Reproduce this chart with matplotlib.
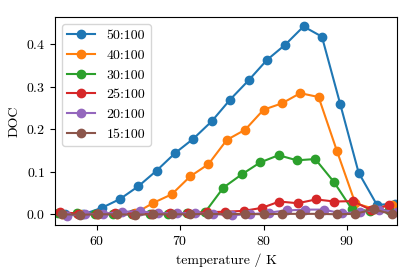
import matplotlib
matplotlib.use('Agg')
import matplotlib.pyplot as plt

plt.rcParams['font.family'] = 'serif'
plt.rcParams['font.serif'] = ['cmr10']
plt.rcParams['mathtext.fontset'] = 'cm'
plt.rcParams['axes.formatter.use_mathtext'] = True
plt.rcParams['font.size'] = 10

labels = ['50:100', '40:100', '30:100', '25:100', '20:100', '15:100']

# temperatures (K) for each series
t_50 = [56.2, 58.4, 60.6, 62.8, 65.0, 67.2, 69.4, 71.6, 73.8, 76.0,
        78.2, 80.4, 82.6, 84.8, 87.0, 89.2, 91.4, 93.6, 95.8]
t_40 = [55.8, 58.0, 60.2, 62.4, 64.6, 66.8, 69.0, 71.2, 73.4, 75.6,
        77.8, 80.0, 82.2, 84.4, 86.6, 88.8, 91.0, 93.2, 95.4]
t_30 = [55.4, 57.6, 59.8, 62.0, 64.2, 66.4, 68.6, 70.8, 73.0, 75.2,
        77.4, 79.6, 81.8, 84.0, 86.2, 88.4, 90.6, 92.8, 95.0]
t_25 = [55.6, 57.8, 60.0, 62.2, 64.4, 66.6, 68.8, 71.0, 73.2, 75.4,
        77.6, 79.8, 81.9, 84.1, 86.3, 88.5, 90.7, 92.9, 95.1]
t_20 = [56.4, 58.6, 60.8, 63.0, 65.2, 67.4, 69.6, 71.8, 74.0, 76.2,
        78.4, 80.6, 82.8, 85.0, 87.2, 89.4, 91.6, 93.8, 96.0]
t_15 = [55.8, 58.0, 60.2, 62.4, 64.6, 66.8, 69.0, 71.2, 73.4, 75.6,
        77.8, 80.0, 82.2, 84.4, 86.6, 88.8, 91.0, 93.2, 95.4]

doc_50 = [0.0, 0.0, 0.015, 0.036, 0.066, 0.103, 0.144, 0.178, 0.219, 0.270,
          0.315, 0.363, 0.399, 0.442, 0.418, 0.259, 0.098, 0.022, 0.025]
doc_40 = [0.0, 0.0, 0.0, 0.0, 0.002, 0.027, 0.047, 0.089, 0.118, 0.175,
          0.199, 0.246, 0.261, 0.285, 0.276, 0.149, 0.026, 0.013, 0.022]
doc_30 = [0.002, 0.003, 0.0, 0.001, 0.0, 0.001, 0.001, 0.002, 0.005, 0.063,
          0.094, 0.122, 0.139, 0.127, 0.130, 0.077, 0.012, 0.008, 0.010]
doc_25 = [0.006, 0.001, 0.001, 0.002, 0.001, 0.001, 0.002, 0.002, 0.005, 0.006,
          0.008, 0.015, 0.030, 0.026, 0.035, 0.030, 0.031, 0.010, 0.022]
doc_20 = [-0.003, 0.0, 0.001, 0.006, 0.007, 0.002, 0.003, 0.002, 0.001, -0.002,
          0.0, 0.004, 0.009, 0.011, 0.011, 0.002, 0.006, 0.010, 0.006]
doc_15 = [0.0, -0.001, 0.0, 0.0, -0.001, 0.0, 0.0, 0.0, 0.001, 0.0,
          0.001, 0.0, 0.001, 0.001, 0.001, 0.0, 0.001, 0.012, 0.0]

temps = [t_50, t_40, t_30, t_25, t_20, t_15]
docs = [doc_50, doc_40, doc_30, doc_25, doc_20, doc_15]

fig = plt.figure(figsize=(4.15, 2.77), dpi=100)
ax = fig.add_axes([0.1325, 0.1877, 0.8241, 0.7509])

for t, d, lab in zip(temps, docs, labels):
    ax.plot(t, d, marker='o', label=lab)

ax.set_xlim(55, 96)
ax.set_xticks([60, 70, 80, 90])
ax.set_yticks([0.0, 0.1, 0.2, 0.3, 0.4])
ax.set_xlabel('temperature / K')
ax.set_ylabel('DOC')
ax.legend(loc='upper left')

fig.savefig('out.png', dpi=100)
